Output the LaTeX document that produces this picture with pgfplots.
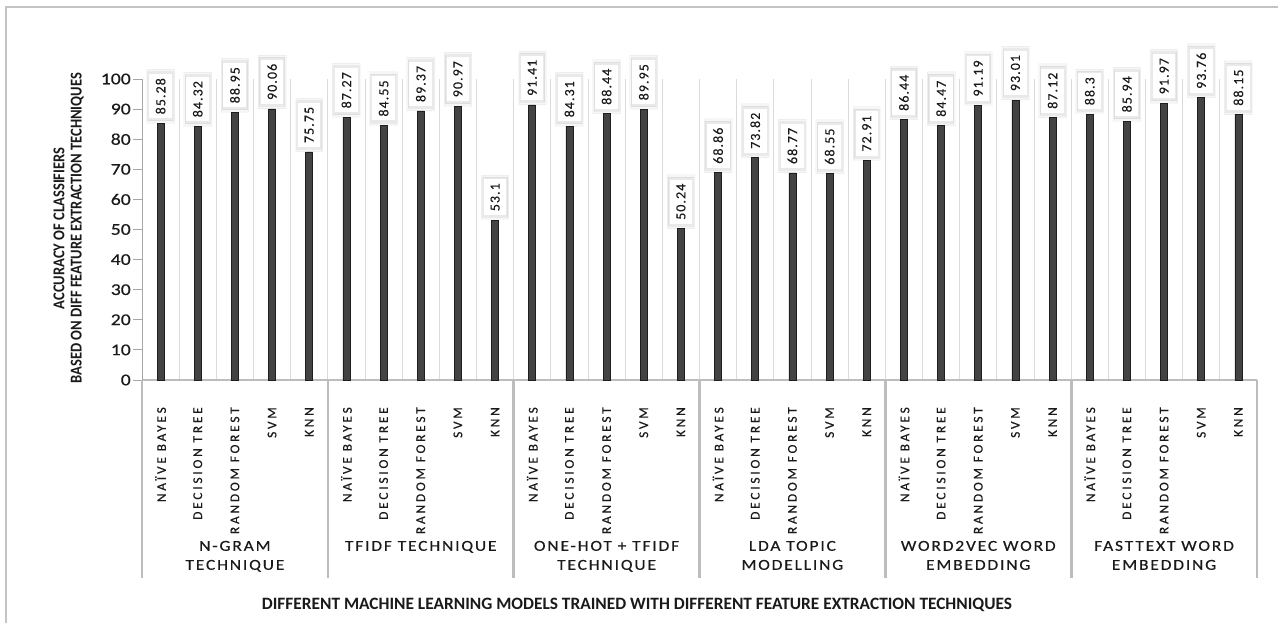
\documentclass[border=0pt]{standalone}
\usepackage{fontspec}
\setmainfont{Carlito}
\usepackage{pgfplots}
\pgfplotsset{compat=1.18}
\usepackage{pgfplotstable}
\usetikzlibrary{shadows}

% fonts for the different text elements
\newfontfamily\tickfamily[FakeStretch=1.2,FakeBold=0.4]{Carlito}
\newfontfamily\modelfamily[LetterSpace=21,FakeBold=0.4]{Carlito}
\newfontfamily\groupfamily[LetterSpace=12,FakeStretch=1.15,FakeBold=0.4]{Carlito}
\newfontfamily\valuefamily[LetterSpace=8,FakeBold=0.3]{Carlito}
\newfontfamily\ytitlefamily[FakeStretch=0.88]{Carlito Bold}

\definecolor{gridgray}{HTML}{DADADA}
\definecolor{axisgray}{HTML}{BDBDBD}
\definecolor{yaxisgray}{HTML}{A6A6A6}
\definecolor{barfill}{HTML}{434343}
\definecolor{baredge}{HTML}{1E1E1E}
\definecolor{textdark}{HTML}{1A1A1A}
\definecolor{framegray}{HTML}{C4C4C4}

% accuracy of each classifier, grouped by feature extraction technique
\pgfplotstableread{
x  acc    label
0  85.28  85.28
1  84.32  84.32
2  88.95  88.95
3  90.06  90.06
4  75.75  75.75
5  87.27  87.27
6  84.55  84.55
7  89.37  89.37
8  90.97  90.97
9  53.1   53.1
10 91.41  91.41
11 84.31  84.31
12 88.44  88.44
13 89.95  89.95
14 50.24  50.24
15 68.86  68.86
16 73.82  73.82
17 68.77  68.77
18 68.55  68.55
19 72.91  72.91
20 86.44  86.44
21 84.47  84.47
22 91.19  91.19
23 93.01  93.01
24 87.12  87.12
25 88.3   88.3
26 85.94  85.94
27 91.97  91.97
28 93.76  93.76
29 88.15  88.15
}\accdata

\tikzset{grouplabel/.style={anchor=north, align=center, inner sep=0pt, text=textdark,
        font=\groupfamily\fontsize{11.4}{14.25}\selectfont}}

\begin{document}
\begin{tikzpicture}
\useasboundingbox (0,0) rectangle (958.5pt,467.25pt);
\fill[white] (0,0) rectangle (958.5pt,467.25pt);
% outer frame (top and left edges)
\draw[framegray, line width=0.9pt] (4.5pt,0) -- (4.5pt,462pt) -- (958.5pt,462pt);

\begin{axis}[
  at={(106.5pt,182.25pt)}, anchor=south west,
  scale only axis, width=836.25pt, height=225.75pt,
  xmin=-0.5, xmax=29.5, ymin=0, ymax=100,
  ytick={0,10,...,100},
  xtick={0,...,29},
  xticklabels={NAÏVE BAYES,DECISION TREE,RANDOM FOREST,SVM,KNN,
               NAÏVE BAYES,DECISION TREE,RANDOM FOREST,SVM,KNN,
               NAÏVE BAYES,DECISION TREE,RANDOM FOREST,SVM,KNN,
               NAÏVE BAYES,DECISION TREE,RANDOM FOREST,SVM,KNN,
               NAÏVE BAYES,DECISION TREE,RANDOM FOREST,SVM,KNN,
               NAÏVE BAYES,DECISION TREE,RANDOM FOREST,SVM,KNN},
  minor xtick={0.5,1.5,...,28.5},
  xminorgrids,
  minor x grid style={draw=gridgray, line width=0.7pt},
  minor tick length=0pt,
  axis x line*=bottom, axis y line*=left,
  x axis line style={draw=axisgray, line width=1.6pt, -},
  y axis line style={draw=yaxisgray, line width=0.7pt, -},
  xtick style={draw=none},
  ytick style={draw=yaxisgray, line width=0.7pt},
  tick align=outside, major tick length=6.75pt,
  /pgf/number format/assume math mode=true,
  yticklabel style={font=\tickfamily\fontsize{12.3}{14}\selectfont, text=textdark, inner sep=1.5pt},
  xticklabel style={font=\modelfamily\fontsize{10}{12}\selectfont, rotate=90, anchor=east,
                    inner sep=0pt, text=textdark},
  xticklabel shift=13.5pt,
  ybar, bar width=5.2pt,
  clip=false,
  nodes near coords={\rotatebox{90}{\pgfplotspointmeta}},
  point meta=explicit symbolic,
  every node near coord/.append style={
    font=\valuefamily\fontsize{10.4}{12}\selectfont, text=textdark,
    fill=white, inner xsep=5pt, inner ysep=3pt, outer sep=0pt, yshift=3.75pt,
    general shadow={fill=black, opacity=0.035, shadow scale=1.22},
    general shadow={fill=black, opacity=0.05, shadow scale=1.11}},
]
\addplot[fill=barfill, draw=baredge, line width=0.5pt]
  table[x=x, y=acc, meta=label] {\accdata};

% group separators below the category axis
\pgfplotsinvokeforeach{-0.5,4.5,9.5,14.5,19.5,24.5,29.5}{
  \draw[axisgray, line width=2pt] (axis cs:#1,0) -- ([yshift=-148.5pt]axis cs:#1,0);
}

% feature extraction technique of each group
\node[grouplabel] at ([yshift=-120.5pt]axis cs:2,0)  {N-GRAM\\TECHNIQUE};
\node[grouplabel] at ([yshift=-120.5pt]axis cs:7,0)  {TFIDF TECHNIQUE};
\node[grouplabel] at ([yshift=-120.5pt]axis cs:12,0) {ONE-HOT + TFIDF\\TECHNIQUE};
\node[grouplabel] at ([yshift=-120.5pt]axis cs:17,0) {LDA TOPIC\\MODELLING};
\node[grouplabel] at ([yshift=-120.5pt]axis cs:22,0) {WORD2VEC WORD\\EMBEDDING};
\node[grouplabel] at ([yshift=-120.5pt]axis cs:27,0) {FASTTEXT WORD\\EMBEDDING};
\end{axis}

% axis titles
\node[rotate=90, align=center, font=\ytitlefamily\fontsize{12.4}{13}\selectfont, text=textdark]
  at (51.4pt,296pt) {ACCURACY OF CLASSIFIERS\\BASED ON DIFF FEATURE EXTRACTION TECHNIQUES};
\node[font=\bfseries\fontsize{13}{15}\selectfont, text=textdark]
  at (477.75pt,13.5pt) {DIFFERENT MACHINE LEARNING MODELS TRAINED WITH DIFFERENT FEATURE EXTRACTION TECHNIQUES};
\end{tikzpicture}
\end{document}
